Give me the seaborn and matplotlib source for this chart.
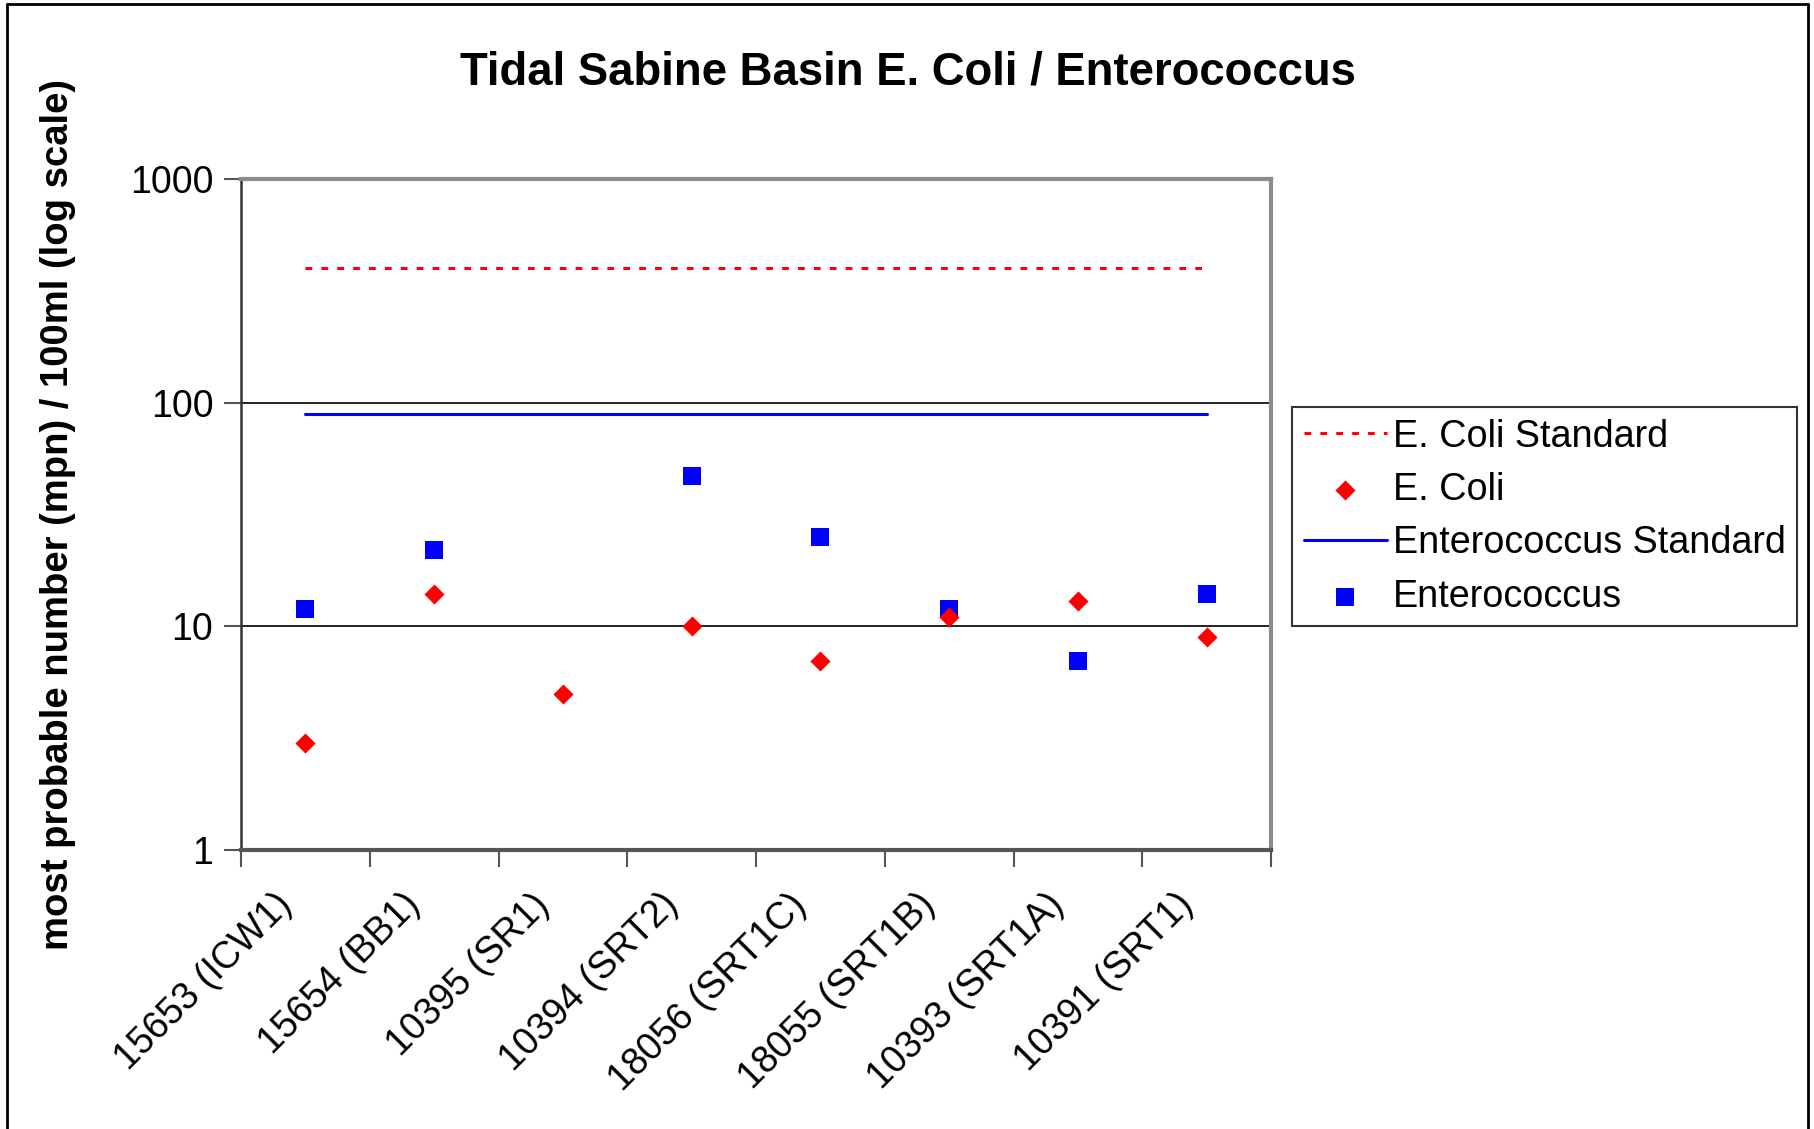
import matplotlib
matplotlib.use('Agg')
import matplotlib.pyplot as plt
import matplotlib.ticker as mticker
import matplotlib.transforms as mtransforms
from matplotlib.lines import Line2D
import seaborn as sns
import pandas as pd
import numpy as np

sites = ['15653 (ICW1)', '15654 (BB1)', '10395 (SR1)', '10394 (SRT2)',
         '18056 (SRT1C)', '18055 (SRT1B)', '10393 (SRT1A)', '10391 (SRT1)']
ecoli = [3, 14, 5, 10, 7, 11, 13, 9]
entero = [12, 22, np.nan, 47, 25, 12, 7, 14]
ecoli_std = [400] * len(sites)
entero_std = [89] * len(sites)

df = pd.DataFrame({'site': sites, 'ecoli': ecoli, 'entero': entero,
                   'ecoli_std': ecoli_std, 'entero_std': entero_std})
df['pos'] = np.arange(len(sites))

sns.set_style('white')
plt.rcParams['font.family'] = ['Liberation Sans', 'DejaVu Sans']
plt.rcParams['text.color'] = 'black'
plt.rcParams['axes.labelcolor'] = 'black'
plt.rcParams['xtick.color'] = 'black'
plt.rcParams['ytick.color'] = 'black'

fig = plt.figure(figsize=(18.15, 11.29), dpi=100)
ax = fig.add_axes([0.1328, 0.2471, 0.5675, 0.5943])

sns.lineplot(data=df, x='pos', y='ecoli_std', ax=ax, color='#ff0000',
             linewidth=2.2, linestyle=(0, (2.2, 3.0)), label='E. Coli Standard')
sns.scatterplot(data=df, x='pos', y='ecoli', ax=ax, color='#ff0000', marker='D',
                s=105, edgecolor='#ff0000', linewidth=0, label='E. Coli', zorder=4)
sns.lineplot(data=df, x='pos', y='entero_std', ax=ax, color='#0000ff',
             linewidth=2.2, label='Enterococcus Standard')
sns.scatterplot(data=df, x='pos', y='entero', ax=ax, color='#0000ff', marker='s',
                s=150, edgecolor='#0000ff', linewidth=0, label='Enterococcus', zorder=3)

ax.set_yscale('log')
ax.set_ylim(1, 1000)
ax.set_xlim(-0.5, len(sites) - 0.5)
ax.yaxis.set_major_locator(mticker.FixedLocator([1, 10, 100, 1000]))
ax.yaxis.set_major_formatter(mticker.FixedFormatter(['1', '10', '100', '1000']))
ax.yaxis.set_minor_locator(mticker.NullLocator())
ax.set_xticks(df['pos'])
ax.set_xticklabels(sites, rotation=45, ha='right', va='top', rotation_mode='anchor')
ax.xaxis.set_minor_locator(mticker.FixedLocator(np.arange(-0.5, len(sites), 1.0)))
ax.tick_params(axis='x', which='major', length=0, pad=30, labelsize=27)
ax.tick_params(axis='x', which='minor', length=12, width=1.5, color='#555555', direction='out')
ax.tick_params(axis='y', which='major', length=12, width=1.5, color='#555555',
               direction='out', labelsize=27, pad=8)
ax.tick_params(bottom=True, left=True, which='both')

# shift the slanted labels a bit left, like the original
shift = mtransforms.ScaledTranslation(-0.32, 0.05, fig.dpi_scale_trans)
for lbl in ax.get_xticklabels():
    lbl.set_transform(lbl.get_transform() + shift)

for v in [10, 100]:
    ax.axhline(v, color='#222222', linewidth=1.4, zorder=1)

ax.spines['top'].set_color('#8c8c8c')
ax.spines['top'].set_linewidth(3)
ax.spines['right'].set_color('#8c8c8c')
ax.spines['right'].set_linewidth(3)
ax.spines['left'].set_color('#333333')
ax.spines['left'].set_linewidth(1.8)
ax.spines['bottom'].set_color('#555555')
ax.spines['bottom'].set_linewidth(3)

ax.set_xlabel('')
ax.set_ylabel('most probable number (mpn) / 100ml (log scale)', fontsize=27.5,
              fontweight='bold', labelpad=14)
ax.yaxis.set_label_coords(-0.160, 0.5)

fig.suptitle('Tidal Sabine Basin E. Coli / Enterococcus', x=0.5, y=0.955,
             fontsize=32.8, fontweight='bold')

leg = ax.legend(loc='upper left', bbox_to_anchor=(1.0208, 0.66), fontsize=27.2,
                frameon=True, fancybox=False, edgecolor='black', borderpad=0.3,
                handlelength=2.2, handletextpad=0.15, labelspacing=0.46,
                borderaxespad=0, markerscale=1.0)
leg.get_frame().set_linewidth(1.5)

# outer chart border
fig.add_artist(Line2D([7 / 1815, 7 / 1815], [0, 1 - 4 / 1129], color='black', lw=2,
                      transform=fig.transFigure))
fig.add_artist(Line2D([7 / 1815, 1808 / 1815], [1 - 4 / 1129, 1 - 4 / 1129], color='black',
                      lw=2, transform=fig.transFigure))
fig.add_artist(Line2D([1808 / 1815, 1808 / 1815], [0, 1 - 4 / 1129], color='black', lw=2,
                      transform=fig.transFigure))

fig.savefig('out.png', dpi=100)
